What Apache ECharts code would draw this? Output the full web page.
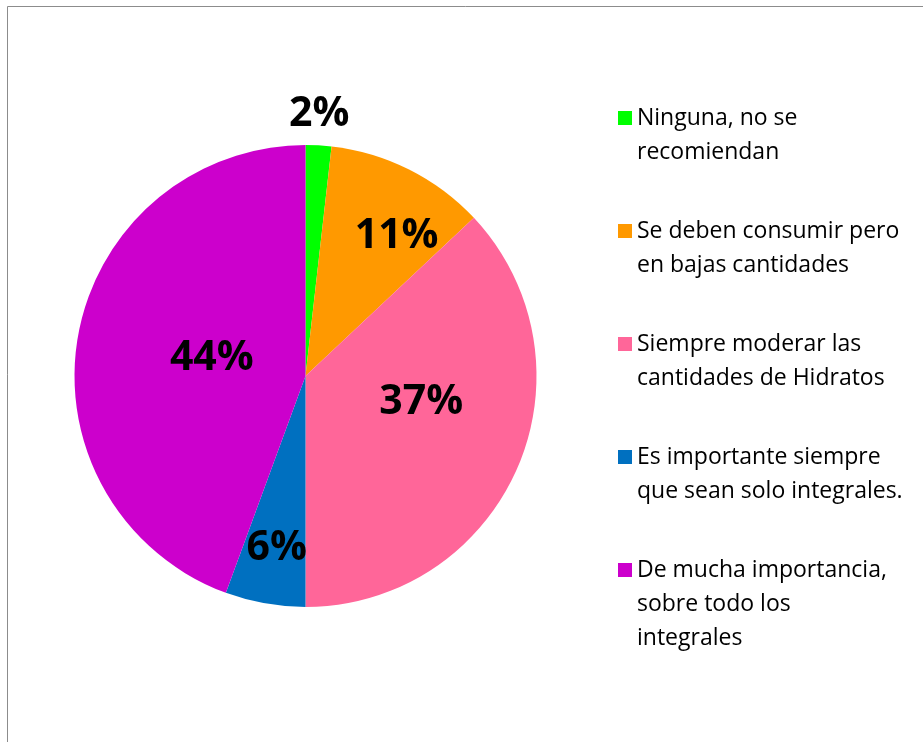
<!DOCTYPE html>
<html>
<head>
<meta charset="utf-8">
<script src="https://cdn.jsdelivr.net/npm/echarts@6/dist/echarts.min.js"></script>
<style>
html,body{margin:0;padding:0;background:#fff;}
#chart{width:923px;height:742px;}
</style>
</head>
<body>
<div id="chart"></div>
<script>
// ---- data ----
const categories = [
  'Ninguna, no se\nrecomiendan',
  'Se deben consumir pero\nen bajas cantidades',
  'Siempre moderar las\ncantidades de Hidratos',
  'Es importante siempre\nque sean solo integrales.',
  'De mucha importancia,\nsobre todo los\nintegrales'
];
// shares (labels show them rounded)
const percentages = [1.8, 11.2, 37.0, 5.6, 44.4];

// ---- style ----
const colors = ['#00FF00', '#FF9900', '#FF6699', '#0070C0', '#CC00CC'];
const LH = 34;

const chart = echarts.init(document.getElementById('chart'), null, {renderer: 'canvas'});

function buildOption() {
  const labelShift = [[7, -143], [38, -34], [7, -21], [-8, 56], [23, 3]];
  const legendTops = [101, 214, 327, 440, 553];
  const legends = categories.map(function (c, i) {
    const n = c.split('\n').length;
    const h = n * LH;
    const icon = 'path://M0,0L14,0L14,0Z M0,10L14,10L14,24L0,24Z M0,' + h + 'L14,' + h + 'L14,' + h + 'Z';
    return {
      orient: 'vertical',
      left: 618,
      top: legendTops[i],
      padding: 0,
      itemWidth: 14,
      itemHeight: h,
      selectedMode: false,
      itemStyle: {borderWidth: 0},
      textStyle: {fontFamily: 'Open Sans', fontSize: 23, color: '#000', lineHeight: LH},
      data: [{name: c, icon: icon}]
    };
  });
  return {
    animation: false,
    backgroundColor: '#ffffff',
    graphic: [{
      type: 'rect',
      shape: {x: 7.5, y: 6.5, width: 1000, height: 1000},
      style: {fill: 'none', stroke: '#8c8c8c', lineWidth: 1},
      silent: true
    }],
    legend: legends,
    series: [{
      type: 'pie',
      center: [305.5, 376],
      radius: 231,
      startAngle: 90,
      clockwise: true,
      avoidLabelOverlap: false,
      labelLine: {show: false},
      label: {
        show: true,
        position: 'inside',
        formatter: function (p) { return Math.round(p.value) + '%'; },
        fontFamily: 'Open Sans',
        fontWeight: 'bold',
        fontSize: 41,
        color: '#000'
      },
      itemStyle: {borderWidth: 0},
      emphasis: {disabled: true},
      data: categories.map(function (c, i) {
        return {
          name: c,
          value: percentages[i],
          itemStyle: {color: colors[i]},
          label: {offset: labelShift[i]}
        };
      })
    }]
  };
}
chart.setOption(buildOption());
</script>
</body>
</html>
